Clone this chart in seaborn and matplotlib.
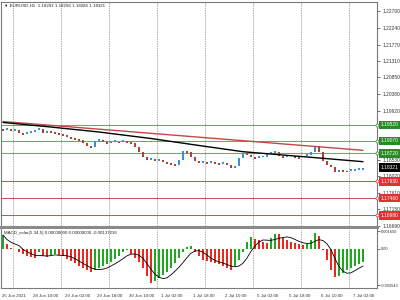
import numpy as np
import pandas as pd
import matplotlib
matplotlib.use("Agg")
import matplotlib.pyplot as plt
import matplotlib.transforms as mtransforms
import seaborn as sns

# ---------------- data ----------------
title_text = "\u25BC EURUSD,H1  1.18292 1.18296 1.18286 1.18321"
macd_title = "MACD_color(5,34,5) 0.00000000 0.00000000 -0.00137236"

first_open = 1.19401
close = [1.19373, 1.19401, 1.19345, 1.19373, 1.19289, 1.19261, 1.19289, 1.19317, 1.19373, 1.19401,
         1.19289, 1.19345, 1.19317, 1.19289, 1.19261, 1.19233, 1.19177, 1.19149, 1.19121, 1.19093,
         1.19009, 1.18925, 1.18897, 1.19065, 1.19093, 1.19037, 1.19009, 1.19037, 1.19051, 1.19037,
         1.19065, 1.19037, 1.19009, 1.18897, 1.18757, 1.18617, 1.18533, 1.18561, 1.18505, 1.18533,
         1.18477, 1.18449, 1.18421, 1.18393, 1.18533, 1.18785, 1.18757, 1.18617, 1.18505, 1.18449,
         1.18477, 1.18449, 1.18463, 1.18449, 1.18421, 1.18449, 1.18393, 1.18308, 1.18365, 1.18589,
         1.18729, 1.18673, 1.18617, 1.18589, 1.18603, 1.18617, 1.18701, 1.18729, 1.18743, 1.18645,
         1.18617, 1.18631, 1.18645, 1.18617, 1.18603, 1.18645, 1.18673, 1.18757, 1.18925, 1.18757,
         1.18505, 1.18393, 1.18336, 1.18196, 1.18252, 1.18238, 1.18224, 1.18238, 1.18252, 1.18266,
         1.18321]

ma_idx = [0, 12, 24, 37, 49, 60, 70, 77, 90]
ma_val = [1.19584, 1.19457, 1.19317, 1.19135, 1.18939, 1.18765, 1.18672, 1.18608, 1.18485]

trend_idx = [0, 90]
trend_val = [1.19612, 1.18804]

green_levels = [1.19520, 1.19070, 1.18720]
red_levels = [1.17930, 1.17460, 1.16980]
last_price = 1.18321

price_ticks = [1.16690, 1.17150, 1.17610, 1.18070, 1.18530,
               1.19920, 1.20380, 1.20850, 1.21310, 1.21770, 1.22240, 1.22700]

macd = [0.00130, 0.00043, 0.00005, -0.00005, -0.00034, -0.00053, -0.00072, -0.00082, -0.00091, -0.00034,
        -0.00072, -0.00082, -0.00063, -0.00053, -0.00058, -0.00072, -0.00101, -0.00120, -0.00139, -0.00168,
        -0.00188, -0.00207, -0.00226, -0.00207, -0.00188, -0.00168, -0.00149, -0.00130, -0.00101, -0.00072,
        -0.00034, -0.00014, -0.00053, -0.00091, -0.00130, -0.00188, -0.00265, -0.00332, -0.00313, -0.00284,
        -0.00255, -0.00226, -0.00188, -0.00139, -0.00091, -0.00034, 0.00014, 0.00024, -0.00034, -0.00072,
        -0.00111, -0.00120, -0.00130, -0.00135, -0.00149, -0.00168, -0.00188, -0.00207, -0.00168, -0.00111,
        -0.00034, 0.00063, 0.00111, 0.00091, 0.00082, 0.00063, 0.00053, 0.00101, 0.00139, 0.00135,
        0.00101, 0.00082, 0.00063, 0.00053, 0.00043, 0.00034, 0.00043, 0.00082, 0.00149, 0.00120,
        -0.00014, -0.00111, -0.00207, -0.00274, -0.00265, -0.00236, -0.00207, -0.00188, -0.00168, -0.00149,
        -0.00130]
macd_ticks = [0.00165, 0.0, -0.003543]
macd_tick_labels = ["0.001650", "0.00", "-0.003543"]

time_pos = [-0.25, 7.5, 15.5, 23.5, 31.5, 39.5, 47.5, 55.5, 63.5, 71.5, 79.5, 87.5]
time_labels = ["25 Jun 2021", "28 Jun 10:00", "29 Jun 02:00", "29 Jun 18:00", "30 Jun 10:00",
               "1 Jul 02:00", "1 Jul 18:00", "2 Jul 10:00", "5 Jul 02:00", "5 Jul 18:00",
               "6 Jul 10:00", "7 Jul 02:00"]
grid_pos = [2.5, 14.5, 26.5, 38.5, 50.5, 62.5, 74.5, 86.5]

# ---------------- style ----------------
sns.set_style("white")
plt.rcParams["font.family"] = ["Liberation Sans", "DejaVu Sans"]

UP = "#3f8fd0"
DOWN = "#a8423a"
GREEN_LINE = "#6aa56a"
RED_LINE = "#c0504d"
GREEN_BOX = "#2a8a2a"
RED_BOX = "#e03232"
H_GREEN = "#1fa81f"
H_RED = "#e52a20"
FS = 3.5
FSM = 2.9
FSX = 3.2

fig = plt.figure(figsize=(4, 3), dpi=100)
W, H = 400.0, 300.0
ax = fig.add_axes([1 / W, 1 - 227 / H, 376 / W, 225 / H])
ax2 = fig.add_axes([1 / W, 1 - 288 / H, 376 / W, 59 / H])

n = len(close)
idx = np.arange(n)
df = pd.DataFrame({"i": idx, "close": close, "macd": macd})
df["open"] = [first_open] + close[:-1]

# ---------------- main panel ----------------
min_h = 0.0005
body = df["close"] - df["open"]
height = np.where(np.abs(body) < min_h, np.where(body >= 0, min_h, -min_h), body)
colors = np.where(df["close"] >= df["open"], UP, DOWN)
ax.bar(df["i"], height, bottom=df["open"], width=0.7, color=colors, linewidth=0, zorder=3)

for lv in green_levels:
    ax.axhline(lv, color=GREEN_LINE, lw=0.7, zorder=2)
for lv in red_levels:
    ax.axhline(lv, color=RED_LINE, lw=0.7, zorder=2)

sns.lineplot(x=trend_idx, y=trend_val, ax=ax, color="#c04848", lw=1.0, zorder=4)
sns.lineplot(x=ma_idx, y=ma_val, ax=ax, color="black", lw=1.0, zorder=4)

for g in grid_pos:
    ax.axvline(g, color="#555555", lw=0.5, ls=(0, (1, 1.5)), zorder=1)
    ax2.axvline(g, color="#555555", lw=0.5, ls=(0, (1, 1.5)), zorder=1)

ax.set_xlim(-0.5, 93.5)
ax.set_ylim(1.16654, 1.22962)
ax.yaxis.tick_right()
ax.set_yticks(price_ticks)
ax.set_yticklabels([f"{v:.5f}" for v in price_ticks])
ax.tick_params(axis="y", length=2.5, width=0.5, pad=1.2, labelsize=FS, colors="#333333")
ax.set_xticks([])
ax.set_xlabel("")
ax.set_ylabel("")
for s in ax.spines.values():
    s.set_color("#7a7a7a")
    s.set_linewidth(0.8)
ax.spines["bottom"].set_linewidth(2.2)
ax.spines["bottom"].set_color("#8a8a8a")

trans = mtransforms.blended_transform_factory(ax.transAxes, ax.transData)
def price_box(lv, fc):
    ax.text(1.009, lv, f"{lv:.5f}", transform=trans, ha="left", va="center", fontsize=FS,
            color="white", clip_on=False, zorder=20,
            bbox=dict(boxstyle="square,pad=0.35", fc=fc, ec="none"))
    ax.plot([1.0], [lv], transform=trans, marker="o", ms=2.2, mfc="white", mec=fc,
            mew=0.5, clip_on=False, zorder=21)

for lv in green_levels:
    price_box(lv, GREEN_BOX)
for lv in red_levels:
    price_box(lv, RED_BOX)
ax.text(1.009, last_price, f"{last_price:.5f}", transform=trans, ha="left", va="center",
        fontsize=FS, color="white", clip_on=False, zorder=20,
        bbox=dict(boxstyle="square,pad=0.35", fc="black", ec="none"))

ax.text(0.008, 0.993, title_text, transform=ax.transAxes, ha="left", va="top",
        fontsize=FSX, color="#222222")

# ---------------- MACD panel ----------------
diff = np.diff(np.r_[macd[0], macd])
df["dir"] = np.where(diff >= 0, "up", "down")
sns.barplot(data=df, x="i", y="macd", hue="dir", palette={"up": H_GREEN, "down": H_RED},
            native_scale=True, dodge=False, width=0.7, errorbar=None, legend=False,
            saturation=1, linewidth=0, ax=ax2, zorder=3)
signal = df["macd"].rolling(5, min_periods=1).mean()
sns.lineplot(x=df["i"], y=signal, ax=ax2, color="black", lw=0.6, zorder=5)

ax2.set_xlim(-0.5, 93.5)
ax2.set_ylim(-0.0038, 0.001876)
ax2.yaxis.tick_right()
ax2.set_yticks(macd_ticks)
ax2.set_yticklabels(macd_tick_labels)
ax2.tick_params(axis="y", length=2.0, width=0.5, pad=0.8, labelsize=FSM, colors="#333333")
ax2.set_xticks(time_pos)
ax2.set_xticklabels(time_labels)
ax2.tick_params(axis="x", length=2.5, width=0.5, pad=1.5, labelsize=FSX, colors="#333333")
for lab in ax2.get_xticklabels():
    lab.set_horizontalalignment("left")
ax2.set_xlabel("")
ax2.set_ylabel("")
for s in ax2.spines.values():
    s.set_color("#7a7a7a")
    s.set_linewidth(0.8)
ax2.spines["top"].set_visible(False)
ax2.text(0.008, 0.96, macd_title, transform=ax2.transAxes, ha="left", va="top",
         fontsize=FSX, color="#222222")

fig.savefig("out.png", dpi=100)
